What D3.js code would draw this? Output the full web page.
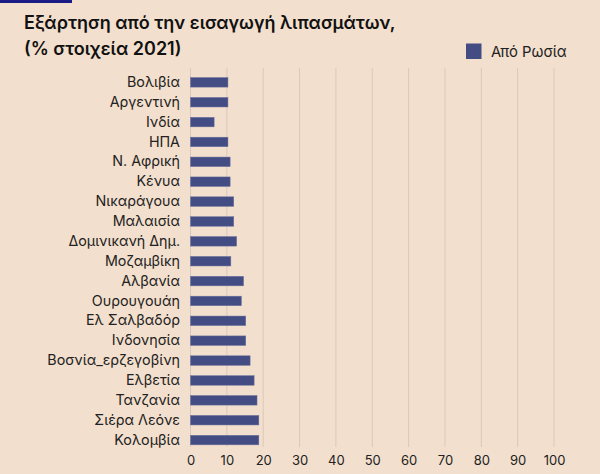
<!DOCTYPE html>
<html><head><meta charset="utf-8">
<script src="https://cdn.jsdelivr.net/npm/d3@7"></script>
<style>
html,body{margin:0;padding:0;background:#f3dfcd;}
svg{display:block;font-family:Inter,"Noto Sans",sans-serif;}
</style></head>
<body>
<script>
const categories = ["Βολιβία","Αργεντινή","Ινδία","ΗΠΑ","Ν. Αφρική","Κένυα","Νικαράγουα","Μαλαισία","Δομινικανή Δημ.","Μοζαμβίκη","Αλβανία","Ουρουγουάη","Ελ Σαλβαδόρ","Ινδονησία","Βοσνία_ερζεγοβίνη","Ελβετία","Τανζανία","Σιέρα Λεόνε","Κολομβία"];
const valuesRussia = [10.3,10.3,6.5,10.3,10.9,10.9,11.9,11.9,12.7,11.1,14.6,14.0,15.2,15.2,16.4,17.5,18.3,18.8,18.8];
const xTicks = [0,10,20,30,40,50,60,70,80,90,100];
const titleLines = ["Εξάρτηση από την εισαγωγή λιπασμάτων,","(% στοιχεία 2021)"];
const legendLabel = "Από Ρωσία";

const W=600,H=474;
const svg=d3.select("body").append("svg").attr("width",W).attr("height",H);
svg.append("rect").attr("width",W).attr("height",H).attr("fill","#f3dfcd");
svg.append("rect").attr("x",0).attr("y",0).attr("width",72).attr("height",3).attr("fill","#1c1c86");

const title=svg.append("text").attr("x",24).attr("y",29).attr("fill","#111")
  .attr("font-size",18).attr("font-weight",600);
titleLines.forEach((t,i)=>title.append("tspan").attr("x",24).attr("y",29+i*26).text(t));

// legend
svg.append("rect").attr("x",466).attr("y",43.5).attr("width",15.5).attr("height",15.5).attr("fill","#434d84");
svg.append("text").attr("x",491).attr("y",56.5).attr("font-size",14.8).attr("fill","#222").text(legendLabel);

const x=d3.scaleLinear().domain([0,100]).range([190.5,554]);
const y=d3.scaleBand().domain(categories).range([72.4,450]).paddingInner(0.52).paddingOuter(0.26);

// grid
svg.append("g").selectAll("line").data(xTicks).join("line")
  .attr("x1",d=>x(d)).attr("x2",d=>x(d)).attr("y1",68).attr("y2",447)
  .attr("stroke","#d9c9bc").attr("stroke-width",1);

svg.append("g").selectAll("rect").data(categories).join("rect")
  .attr("x",x(0)).attr("y",c=>y(c))
  .attr("width",(c,i)=>x(valuesRussia[i])-x(0)).attr("height",y.bandwidth())
  .attr("fill","#434d84").attr("stroke","#6c72a0").attr("stroke-width",0.5);

const yAxis=svg.append("g").attr("transform","translate(180,0)")
  .call(d3.axisLeft(y).tickSize(0).tickPadding(0));
yAxis.select(".domain").remove();
yAxis.selectAll("text").attr("font-size",14.3).attr("fill","#222").attr("font-family","Inter,'Noto Sans',sans-serif");

const xAxis=svg.append("g").attr("transform","translate(0,447)")
  .call(d3.axisBottom(x).tickValues(xTicks).tickSize(0).tickPadding(9));
xAxis.select(".domain").remove();
xAxis.selectAll("text").attr("font-size",13).attr("fill","#222").attr("font-family","Inter,'Noto Sans',sans-serif");
</script>
</body></html>
